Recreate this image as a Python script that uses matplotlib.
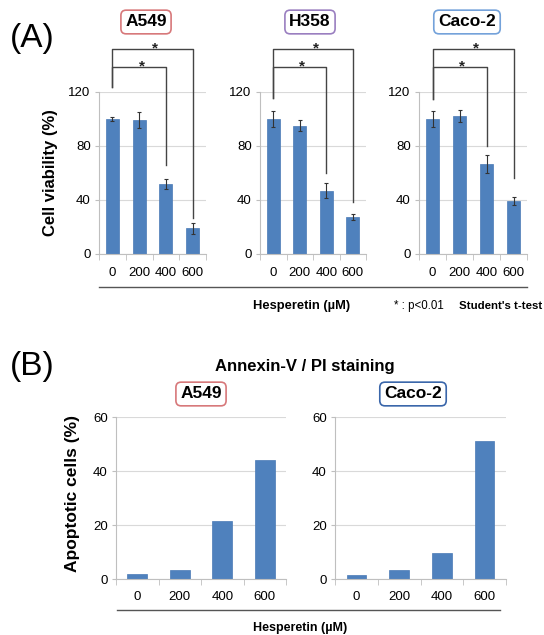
import numpy as np
import matplotlib.pyplot as plt
from matplotlib.ticker import FixedLocator

plt.rcParams['font.family'] = ['Liberation Sans', 'DejaVu Sans']

# Data
doses = ['0', '200', '400', '600']

via_cells = ['A549', 'H358', 'Caco-2']
via_mean = {'A549': [100, 99, 52, 19],
            'H358': [100, 95, 47, 27.5],
            'Caco-2': [100, 102.5, 66.5, 39.5]}
via_err = {'A549': [1.5, 6, 3.5, 4],
           'H358': [6, 4, 5.5, 2.5],
           'Caco-2': [6, 4.5, 6.5, 3]}
# bracket end heights (data units) for the two significance marks
brk_start = {'A549': 124, 'H358': 115.5, 'Caco-2': 115}
brk_inner = {'A549': 66, 'H358': 60, 'Caco-2': 80}
brk_outer = {'A549': 27, 'H358': 38.5, 'Caco-2': 56}

apo_cells = ['A549', 'Caco-2']
apo_vals = {'A549': [2.0, 3.3, 21.5, 44.2],
            'Caco-2': [1.6, 3.2, 9.5, 51.2]}

box_colors = {'A549': '#d7787a', 'H358': '#9a7fc0', 'Caco-2': '#74a2da'}
box_colors_b = {'A549': '#d7787a', 'Caco-2': '#3a66aa'}

bar_col = '#4f81bd'
W, H = 544, 635

fig = plt.figure(figsize=(W / 100, H / 100), dpi=100)


def px_axes(x0, x1, ytop, ybot):
    return fig.add_axes([x0 / W, 1 - ybot / H, (x1 - x0) / W, (ybot - ytop) / H])


def style(ax, ymax, step):
    x = np.arange(len(doses)) + 0.5
    ax.set_xlim(0, len(doses))
    ax.set_ylim(0, ymax)
    ax.set_yticks(np.arange(0, ymax + 1, step))
    ax.set_xticks(x)
    ax.set_xticklabels(doses, fontsize=9.5)
    ax.xaxis.set_minor_locator(FixedLocator(np.arange(len(doses) + 1)))
    ax.tick_params(axis='x', which='major', length=0, pad=9)
    ax.tick_params(axis='x', which='minor', length=4, color='#bfbfbf', direction='out')
    ax.tick_params(axis='y', length=3, color='#bfbfbf', labelsize=9.5, pad=3)
    for s in ['top', 'right']:
        ax.spines[s].set_visible(False)
    for s in ['left', 'bottom']:
        ax.spines[s].set_color('#bfbfbf')
        ax.spines[s].set_linewidth(0.8)
    ax.grid(axis='y', color='#d9d9d9', lw=0.8)
    ax.set_axisbelow(True)
    return x


def label_box(xc, yc, text, ec):
    fig.text(xc / W, 1 - yc / H, text, ha='center', va='center', fontsize=12.5,
             fontweight='bold',
             bbox=dict(boxstyle='round,pad=0.25,rounding_size=0.3', fc='white', ec=ec, lw=1.2))


# ---------------- (A) cell viability ----------------
a_pos = {'A549': (99, 206), 'H358': (260, 366), 'Caco-2': (419, 527)}
a_box = {'A549': 146, 'H358': 310, 'Caco-2': 467}
for cell in via_cells:
    ax = px_axes(a_pos[cell][0], a_pos[cell][1], 92, 254)
    x = style(ax, 120, 40)
    ax.bar(x, via_mean[cell], width=0.48, color=bar_col, edgecolor='#4a7ab5', lw=0.5)
    ax.errorbar(x, via_mean[cell], yerr=via_err[cell], fmt='none', ecolor='#333333',
                elinewidth=0.8, capsize=1.5, capthick=0.8)
    # significance brackets
    top_y, mid_y = 151.6, 138.5
    kw = dict(color='#444444', lw=1, clip_on=False)
    ax.plot([x[0], x[0], x[3], x[3]], [brk_start[cell], top_y, top_y, brk_outer[cell]], **kw)
    ax.plot([x[0], x[0], x[2], x[2]], [brk_start[cell], mid_y, mid_y, brk_inner[cell]], **kw)
    ax.text((x[0] + x[3]) / 2 + 0.1, 149.5, '*', ha='center', va='baseline', fontsize=11,
            fontweight='bold', color='#222222', clip_on=False)
    ax.text((x[0] + x[2]) / 2 + 0.1, 136.2, '*', ha='center', va='baseline', fontsize=11,
            fontweight='bold', color='#222222', clip_on=False)
    label_box(a_box[cell], 22, cell, box_colors[cell])

fig.text(32 / W, 1 - 39 / H, '(A)', fontsize=24, ha='center', va='center')
fig.text(50 / W, 1 - 173 / H, 'Cell viability (%)', rotation=90, fontsize=12,
         fontweight='bold', ha='center', va='center')
fig.add_artist(plt.Line2D([99 / W, 527 / W], [1 - 287 / H] * 2, color='#555555', lw=1))
fig.text(302 / W, 1 - 306 / H, 'Hesperetin (\u00b5M)', fontsize=9.3, fontweight='bold',
         ha='center', va='center')
fig.text(419 / W, 1 - 306 / H, '* : p<0.01', fontsize=8.3, ha='center', va='center')
fig.text(501 / W, 1 - 306 / H, "Student's t-test", fontsize=8.2, fontweight='bold',
         ha='center', va='center')

# ---------------- (B) apoptosis ----------------
b_pos = {'A549': (116, 286), 'Caco-2': (335, 506)}
b_box = {'A549': 201, 'Caco-2': 413}
for cell in apo_cells:
    ax = px_axes(b_pos[cell][0], b_pos[cell][1], 417, 579)
    x = style(ax, 60, 20)
    ax.bar(x, apo_vals[cell], width=0.46, color=bar_col, edgecolor='#4a7ab5', lw=0.5)
    label_box(b_box[cell], 394, cell, box_colors_b[cell])

fig.text(32 / W, 1 - 367 / H, '(B)', fontsize=24, ha='center', va='center')
fig.text(72 / W, 1 - 494 / H, 'Apoptotic cells (%)', rotation=90, fontsize=12.5,
         fontweight='bold', ha='center', va='center')
fig.text(305 / W, 1 - 367 / H, 'Annexin-V / PI staining', fontsize=12, fontweight='bold',
         ha='center', va='center')
fig.add_artist(plt.Line2D([117 / W, 500 / W], [1 - 610 / H] * 2, color='#555555', lw=1))
fig.text(300 / W, 1 - 628 / H, 'Hesperetin (\u00b5M)', fontsize=9, fontweight='bold',
         ha='center', va='center')

fig.savefig('out.png', dpi=100)
